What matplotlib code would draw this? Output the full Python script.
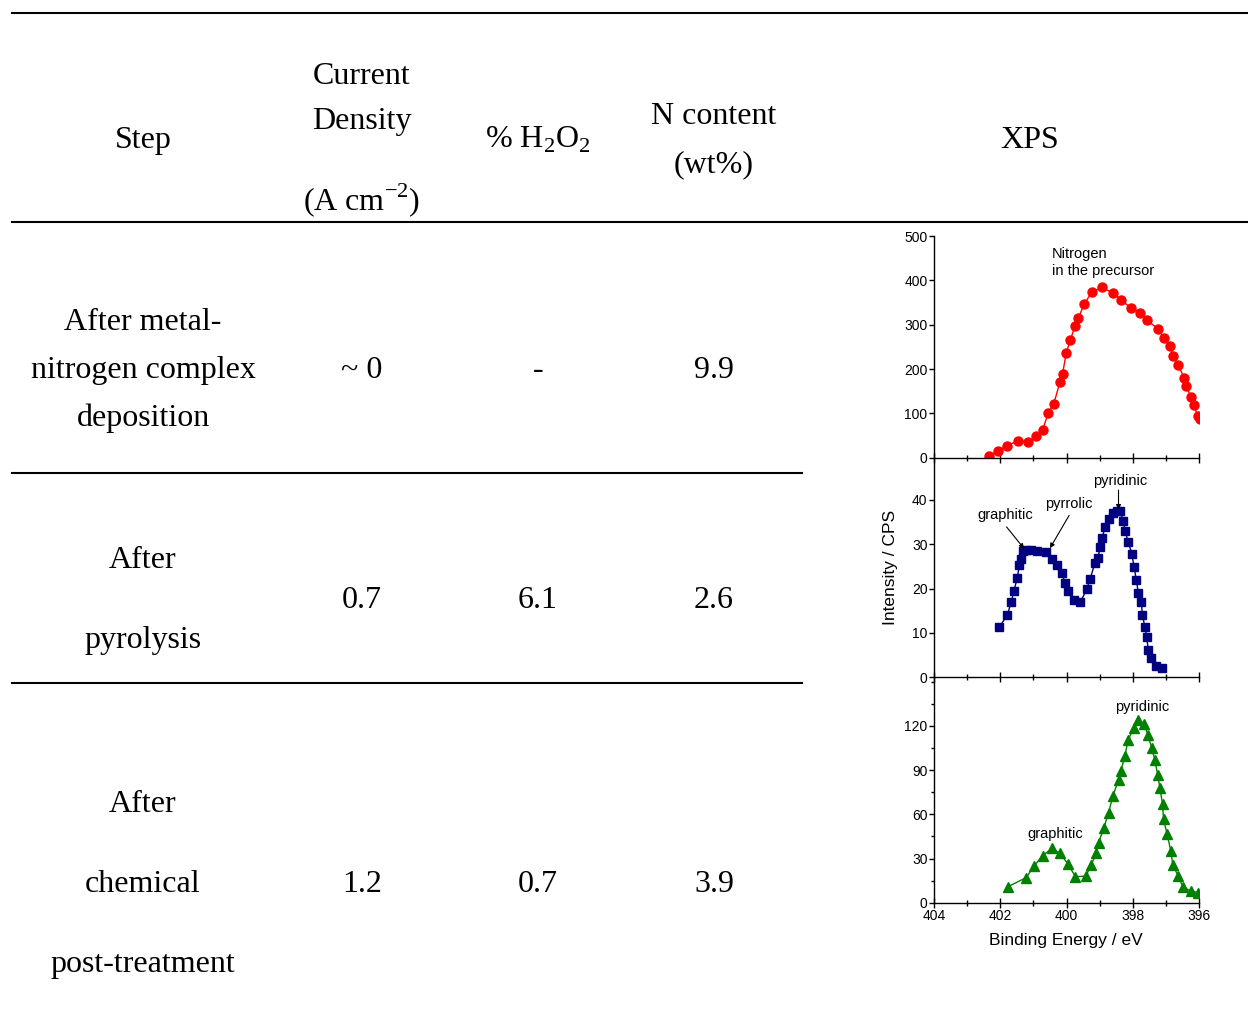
import matplotlib
matplotlib.use('Agg')
import matplotlib.pyplot as plt
from matplotlib.lines import Line2D
from matplotlib.ticker import MultipleLocator

plt.rcParams['mathtext.fontset'] = 'custom'
plt.rcParams['mathtext.rm'] = 'Liberation Serif'

# --- table contents ---
steps = ['After metal-\nnitrogen complex\ndeposition',
         'After\npyrolysis',
         'After\nchemical\npost-treatment']
current_density = ['~ 0', '0.7', '1.2']
h2o2 = ['-', '6.1', '0.7']
n_content = ['9.9', '2.6', '3.9']

# --- XPS N1s spectra (binding energy in eV, intensity in CPS) ---
be_precursor = [402.33, 402.07, 401.80, 401.46, 401.16, 400.93, 400.72, 400.55,
                400.39, 400.20, 400.12, 400.01, 399.88, 399.74, 399.65, 399.46,
                399.24, 398.94, 398.60, 398.35, 398.05, 397.77, 397.58, 397.23,
                397.07, 396.87, 396.78, 396.62, 396.45, 396.39, 396.25, 396.16,
                396.04, 395.98]
cps_precursor = [4, 15, 27, 38, 36, 48, 63, 101, 120, 170, 188, 236, 266, 298,
                 314, 347, 373, 384, 372, 355, 338, 327, 311, 290, 270, 252,
                 229, 208, 180, 162, 138, 118, 95, 88]

be_pyrolysis = [402.03, 401.79, 401.67, 401.59, 401.49, 401.42, 401.37, 401.31,
                401.22, 401.07, 400.90, 400.61, 400.43, 400.29, 400.13, 400.05,
                399.95, 399.78, 399.58, 399.39, 399.29, 399.14, 399.06, 398.98,
                398.92, 398.84, 398.72, 398.60, 398.48, 398.39, 398.28, 398.23,
                398.14, 398.03, 397.96, 397.89, 397.83, 397.74, 397.71, 397.63,
                397.58, 397.53, 397.46, 397.29, 397.11]
cps_pyrolysis = [11.3, 14.0, 16.9, 19.4, 22.3, 25.3, 26.6, 28.5, 28.8, 28.8,
                 28.4, 28.3, 26.6, 25.4, 23.4, 21.2, 19.5, 17.4, 17.0, 19.8,
                 22.1, 25.8, 26.8, 29.3, 31.4, 33.9, 35.6, 37.1, 37.4, 37.5,
                 35.3, 32.9, 30.6, 27.9, 24.9, 21.9, 18.9, 16.9, 14.0, 11.3,
                 9.0, 6.2, 4.4, 2.6, 2.2]

be_treated = [401.77, 401.22, 400.97, 400.72, 400.44, 400.19, 399.95, 399.73,
              399.41, 399.27, 399.10, 399.03, 398.88, 398.73, 398.60, 398.43,
              398.36, 398.24, 398.14, 397.97, 397.84, 397.66, 397.54, 397.43,
              397.33, 397.25, 397.18, 397.10, 397.07, 396.96, 396.85, 396.79,
              396.63, 396.48, 396.25, 396.03]
cps_treated = [10.8, 17.0, 25.1, 31.9, 36.8, 33.4, 26.0, 17.6, 18.1, 25.3,
               33.4, 40.7, 50.4, 61.0, 72.5, 83.2, 89.3, 99.4, 110.3, 118.9,
               123.8, 121.6, 113.7, 105.3, 96.7, 87.0, 78.0, 66.7, 56.5, 46.3,
               35.0, 25.5, 18.3, 10.4, 8.1, 6.8]

ticks_precursor = [0, 100, 200, 300, 400, 500]
ticks_pyrolysis = [0, 10, 20, 30, 40]
ticks_treated = [0, 30, 60, 90, 120]

W, H = 1248, 1036
fig = plt.figure(figsize=(W / 100, H / 100), dpi=100)

SERIF = 'Liberation Serif'
SANS = 'Liberation Sans'


def fx(x):
    return x / W


def fy(y):
    return 1 - y / H


def cell(x, y, s):
    fig.text(fx(x), fy(y), s, ha='center', va='baseline',
             fontsize=23, family=SERIF)


def hline(y, x0, x1):
    fig.add_artist(Line2D([fx(x0), fx(x1)], [fy(y), fy(y)],
                          color='black', lw=1.5))


# header
hline(13, 12, W)
cell(143, 148, 'Step')
cell(362, 84, 'Current')
cell(362, 129, 'Density')
cell(362, 210, '(A cm$^{\\mathregular{-2}}$)')
cell(538, 148, '% H$_{\\mathregular{2}}$O$_{\\mathregular{2}}$')
cell(714, 124, 'N content')
cell(714, 172, '(wt%)')
cell(1030, 148, 'XPS')
hline(222, 12, W)

# body rows
col_x = [143, 362, 538, 714]
row_base = [378, 608, 892]
line_gap = [48, 80, 80]
for i, step in enumerate(steps):
    lines = step.split('\n')
    n = len(lines)
    for j, ln in enumerate(lines):
        cell(col_x[0], row_base[i] + (j - (n - 1) / 2) * line_gap[i], ln)
    cell(col_x[1], row_base[i], current_density[i])
    cell(col_x[2], row_base[i], h2o2[i])
    cell(col_x[3], row_base[i], n_content[i])
hline(473, 12, 802)
hline(683, 12, 802)

# XPS panels stacked on a shared binding-energy axis
x0, x1 = 934, 1199
panels = [
    (236, 457.7, 500, ticks_precursor, None, be_precursor, cps_precursor, 'o', 'red', 6.5),
    (457.7, 677.3, 49.5, ticks_pyrolysis, None, be_pyrolysis, cps_pyrolysis, 's', '#000080', 5.5),
    (677.3, 902.7, 153, ticks_treated, 15, be_treated, cps_treated, '^', '#008000', 7),
]
axes = []
for k, (top, bot, ymax, yticks, minor, xs, ys, mk, col, ms) in enumerate(panels):
    ax = fig.add_axes([fx(x0), fy(bot), (x1 - x0) / W, (bot - top) / H])
    ax.set_facecolor('none')
    ax.plot(xs, ys, color=col, lw=1, marker=mk, ms=ms, mec=col, mfc=col)
    ax.set_xlim(404, 396)
    ax.set_ylim(0, ymax)
    ax.xaxis.set_major_locator(MultipleLocator(2))
    ax.xaxis.set_minor_locator(MultipleLocator(1))
    ax.set_yticks(yticks)
    if minor:
        ax.yaxis.set_minor_locator(MultipleLocator(minor))
        ax.tick_params(axis='y', which='minor', direction='out', length=2.5, width=1)
    for s in ('top', 'right'):
        ax.spines[s].set_visible(False)
    for s in ('left', 'bottom'):
        ax.spines[s].set_linewidth(1)
    ax.tick_params(axis='x', which='major', direction='inout', length=7, width=1, pad=1)
    ax.tick_params(axis='x', which='minor', direction='inout', length=4.5, width=1)
    ax.tick_params(axis='y', which='major', direction='out', length=3.6, width=1, pad=1)
    ax.tick_params(labelsize=10)
    for lab in ax.get_xticklabels() + ax.get_yticklabels():
        lab.set_family(SANS)
    if k < 2:
        ax.tick_params(axis='x', labelbottom=False)
    axes.append(ax)

ax1, ax2, ax3 = axes
afont = dict(family=SANS, fontsize=10.5)

ax1.text(400.44, 440, 'Nitrogen\nin the precursor', ha='left', va='center',
         linespacing=1.3, **afont)

arrow = dict(arrowstyle='-|>', color='black', lw=0.8, mutation_scale=7,
             shrinkA=0, shrinkB=0)
ax2.text(401.86, 36.6, 'graphitic', ha='center', va='center', **afont)
ax2.annotate('', xy=(401.28, 29.0), xytext=(401.81, 33.9), arrowprops=arrow)
ax2.text(399.92, 39.1, 'pyrrolic', ha='center', va='center', **afont)
ax2.annotate('', xy=(400.50, 29.1), xytext=(399.92, 36.5), arrowprops=arrow)
ax2.text(398.38, 44.3, 'pyridinic', ha='center', va='center', **afont)
ax2.annotate('', xy=(398.43, 37.8), xytext=(398.43, 42.2), arrowprops=arrow)

ax3.text(397.72, 132.7, 'pyridinic', ha='center', va='center', **afont)
ax3.text(400.33, 46.6, 'graphitic', ha='center', va='center', **afont)

fig.text(fx(890), fy(567), 'Intensity / CPS', rotation=90, ha='center',
         va='center', family=SANS, fontsize=12.5)
fig.text(fx(1066), fy(941), 'Binding Energy / eV', ha='center',
         va='center', family=SANS, fontsize=12.5)

fig.savefig('out.png', dpi=100)
